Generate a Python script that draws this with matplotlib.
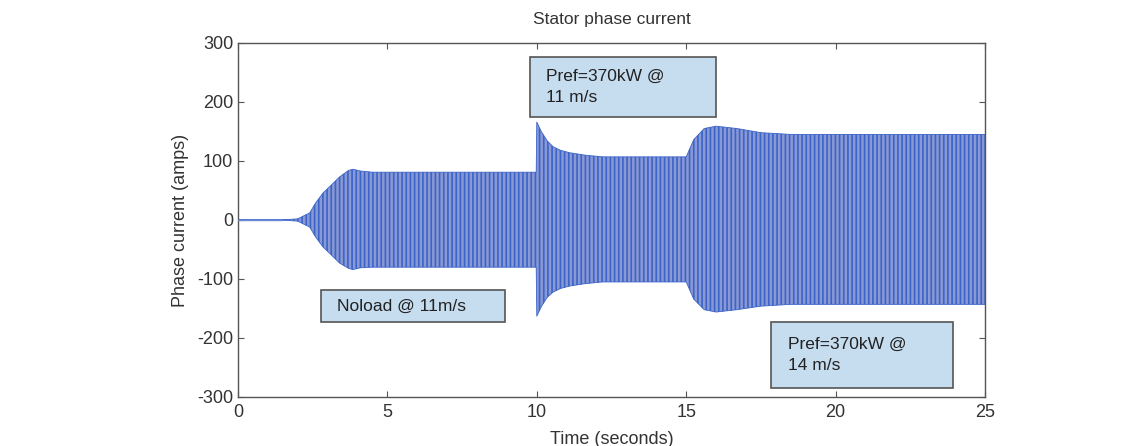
import matplotlib
matplotlib.use("Agg")
import matplotlib.pyplot as plt
from matplotlib.patches import Rectangle

# Envelope of the stator phase current
t_env = [0, 1.45, 2.0, 2.4, 2.6, 2.85, 3.1, 3.4, 3.7, 3.85, 4.1, 4.5, 9.98,
         10.0, 10.15, 10.35, 10.55, 10.8, 11.1, 11.6, 12.2, 15.0, 15.25, 15.6,
         16.0, 16.7, 17.5, 18.5, 25]
amp_upper = [0, 0, 2, 12, 29, 46, 58, 73, 84, 86, 83, 81, 81,
             166, 150, 134, 124, 118, 114, 110, 107, 107, 136, 155,
             159, 155, 148, 145, 145]
amp_lower = [0, 0, -2, -12, -29, -46, -58, -73, -82, -84, -81, -80, -80,
             -163, -147, -131, -122, -116, -112, -108, -105, -105, -134, -152,
             -156, -152, -146, -143, -143]

xticks = [0, 5, 10, 15, 20, 25]
yticks = [-300, -200, -100, 0, 100, 200, 300]

# annotation boxes: (text, x0, y0, x1, y1) in data units
boxes = [
    ("Pref=370kW @\n11 m/s", 9.77, 175, 16.0, 276),
    ("Noload @ 11m/s", 2.78, -173, 8.94, -119),
    ("Pref=370kW @\n14 m/s", 17.84, -285, 23.93, -173),
]

plt.rcParams['font.family'] = ['Liberation Sans', 'DejaVu Sans']
plt.rcParams['axes.unicode_minus'] = False
plt.rcParams['hatch.linewidth'] = 1.2
fig = plt.figure(figsize=(11.43, 4.46), dpi=100)

ax = fig.add_axes([0.2082, 0.1099, 0.6536, 0.7937])
ax.fill_between(t_env, amp_lower, amp_upper, facecolor="#8a98d4",
                edgecolor="#3a64c8", hatch="||||", linewidth=0.6, zorder=2)
ax.plot([0, 1.45], [0, 0], color="#6a8ad8", lw=1.0, zorder=3)

for txt, x0, y0, x1, y1 in boxes:
    ax.add_patch(Rectangle((x0, y0), x1 - x0, y1 - y0, facecolor="#c6dcef",
                           edgecolor="#555555", lw=1.2, zorder=4))
    ax.text(x0 + 0.55, (y0 + y1) / 2, txt, fontsize=12.5, color="#222222",
            ha="left", va="center", linespacing=1.5, zorder=5)

ax.set_xlim(0, 25)
ax.set_ylim(-300, 300)
ax.set_xticks(xticks)
ax.set_yticks(yticks)
ax.tick_params(direction="in", top=True, right=True, length=4, width=0.8,
               colors="#555555", labelcolor="#333333", labelsize=13)
ax.tick_params(axis="x", pad=5)
for s in ax.spines.values():
    s.set_color("#555555")
    s.set_linewidth(1.0)
ax.set_title("Stator phase current", fontsize=12.5, color="#333333", pad=14)
ax.set_xlabel("Time (seconds)", fontsize=13, color="#333333", labelpad=7)
ax.set_ylabel("Phase current (amps)", fontsize=13, color="#333333", labelpad=6)

fig.savefig("out.png", dpi=100)
